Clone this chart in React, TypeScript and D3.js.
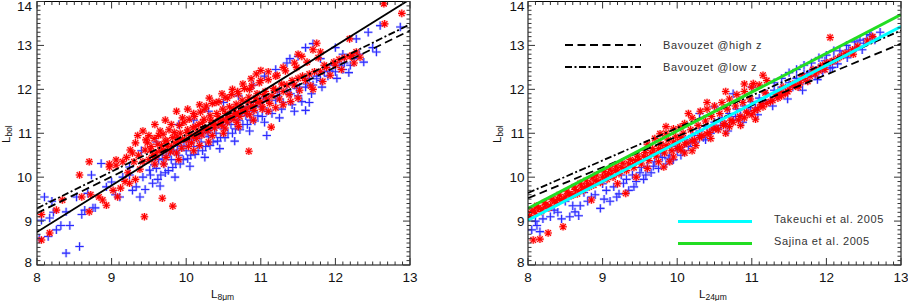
import React from 'react';
import * as d3 from 'd3';

type Pt = [number, number];

const xTicks = [8, 9, 10, 11, 12, 13];
const yTicks = [8, 9, 10, 11, 12, 13, 14];

// L_8um panel, red asterisks
const l8Red: Pt[] = [
  [8.06, 8.57], [8.06, 9.15], [8.17, 8.73], [8.26, 9.25], [8.34, 9.48], [8.57, 10.05], [8.6, 9.55], [8.7, 9.21],
  [8.7, 10.35], [8.72, 9.6], [8.83, 9.55], [8.88, 9.48], [8.93, 9.36], [8.97, 10.23], [8.97, 10.3], [9.02, 9.7],
  [9.06, 10.27], [9.06, 10.39], [9.08, 9.55], [9.12, 9.75], [9.18, 9.9], [9.22, 10.1], [9.24, 9.86], [9.3, 10.35],
  [9.32, 9.95], [9.36, 10.5], [9.38, 10.18], [9.44, 9.1], [9.28, 10.55], [9.2, 10.45], [9.68, 9.52], [9.82, 9.34],
  [9.5, 10.4], [9.52, 10.62], [9.55, 10.5], [9.6, 10.55], [9.62, 10.75], [9.65, 10.6], [9.7, 10.62], [9.72, 10.82],
  [9.75, 10.7], [9.8, 10.7], [9.82, 10.9], [9.85, 10.78], [9.9, 10.8], [9.92, 11.0], [9.95, 10.86], [10.0, 10.85],
  [10.02, 11.08], [10.05, 10.95], [10.1, 10.92], [10.12, 11.15], [10.15, 11.02], [10.2, 11.05], [10.22, 11.25],
  [10.25, 11.1], [10.3, 11.12], [10.33, 11.3], [10.36, 11.2], [10.4, 11.2], [10.43, 11.38], [10.46, 11.28],
  [10.5, 11.3], [10.53, 11.45], [10.56, 11.35], [10.6, 11.38], [10.63, 11.55], [10.66, 11.45], [10.7, 11.45],
  [10.73, 11.62], [10.76, 11.52], [10.8, 11.55], [10.83, 11.72], [10.86, 11.6], [10.9, 11.62], [10.93, 11.8],
  [10.96, 11.7], [11.0, 11.72], [11.04, 11.88], [11.08, 11.78], [11.15, 11.85], [11.2, 11.98], [11.3, 11.95],
  [11.35, 12.1], [11.45, 12.1], [11.5, 12.25], [11.6, 12.2], [11.65, 12.35], [11.8, 12.4], [11.85, 12.55],
  [12.0, 12.55], [12.05, 12.68], [12.2, 12.75], [12.28, 12.85],
  [9.7, 10.3], [9.9, 10.4], [10.1, 10.6], [10.3, 10.8], [10.5, 11.0], [10.7, 11.15], [10.9, 11.3], [11.1, 11.5],
  [11.3, 11.65], [11.5, 11.8], [11.7, 12.0],
  [9.35, 10.95], [9.42, 11.05], [9.5, 10.95], [9.58, 11.2], [9.65, 11.05], [9.72, 11.3], [9.8, 11.2], [9.87, 11.5],
  [9.95, 11.35], [10.02, 11.55], [10.1, 11.45], [10.18, 11.65], [10.25, 11.55], [10.31, 11.8], [10.4, 11.7],
  [10.48, 11.9], [10.55, 11.8], [10.62, 12.0], [10.7, 11.9], [10.76, 12.12], [10.85, 12.0], [10.94, 12.35],
  [11.0, 12.2], [11.1, 12.4], [11.2, 12.3], [11.3, 12.5], [11.45, 12.6], [11.55, 12.75], [11.7, 12.9],
  [11.75, 13.05], [11.8, 12.85],
  [10.84, 10.59], [11.14, 11.14], [12.65, 13.95], [12.89, 13.73], [12.66, 13.49], [12.19, 13.15], [11.5, 12.8],
  [11.0, 12.43], [10.87, 12.24], [12.22, 12.77], [12.33, 12.73],
  [9.45, 10.62], [9.48, 10.78], [9.53, 10.7], [9.57, 10.88], [9.59, 10.45], [9.63, 10.95], [9.67, 10.72],
  [9.69, 10.98], [9.74, 10.83], [9.77, 11.08], [9.79, 10.58], [9.84, 11.02], [9.88, 10.92], [9.91, 11.18],
  [9.94, 10.66], [9.97, 11.25], [10.01, 11.02], [10.04, 11.32], [10.07, 10.78], [10.09, 11.12], [10.11, 11.38],
  [10.14, 10.88], [10.17, 11.2], [10.19, 11.48], [10.21, 10.96], [10.24, 11.32], [10.27, 11.62], [10.29, 11.05],
  [10.32, 11.4], [10.35, 11.68], [10.38, 11.12], [10.41, 11.45], [10.44, 11.72], [10.47, 11.18], [10.49, 11.55],
  [10.52, 11.82], [10.55, 11.25], [10.58, 11.6], [10.61, 11.88], [10.64, 11.32], [10.67, 11.66], [10.69, 11.95],
  [10.72, 11.38], [10.75, 11.75], [10.78, 12.02], [10.81, 11.45], [10.84, 11.82], [10.88, 12.08], [10.91, 11.52],
  [10.95, 11.9], [10.98, 12.15], [11.02, 11.6], [11.06, 11.95], [11.1, 12.22], [11.12, 11.68], [11.17, 12.02],
  [11.22, 12.32], [11.25, 11.78], [11.28, 12.12], [11.33, 12.42], [11.38, 11.88], [11.42, 12.2], [11.48, 12.5],
  [11.52, 11.98], [11.56, 12.3], [11.62, 12.62], [11.67, 12.08], [11.72, 12.4], [11.77, 12.72], [11.83, 12.18],
  [11.88, 12.5], [11.93, 12.32], [11.98, 12.62], [12.08, 12.45], [12.12, 12.72], [12.25, 12.6], [9.42, 10.35],
  [9.58, 10.3], [9.73, 10.45], [9.87, 10.55], [10.03, 10.7], [10.18, 10.72], [10.35, 10.95], [10.52, 11.12],
  [10.68, 11.25], [10.85, 11.42], [11.02, 11.55], [11.2, 11.58], [11.4, 11.72], [9.25, 10.62], [9.32, 10.78],
  [9.15, 10.35], [9.46, 10.85],
];

// L_8um panel, blue crosses
const l8Blue: Pt[] = [
  [8.03, 8.61], [8.06, 9.02], [8.1, 9.55], [8.15, 8.65], [8.17, 9.07], [8.22, 9.2], [8.26, 8.8], [8.32, 8.9],
  [8.39, 9.21], [8.39, 8.27], [8.44, 8.9], [8.53, 9.55], [8.57, 8.42], [8.6, 9.15], [8.64, 9.25], [8.68, 9.63],
  [8.73, 10.05], [8.78, 9.3], [8.86, 10.31], [8.93, 9.78], [9.0, 9.89], [9.05, 9.6], [9.11, 9.55], [9.15, 10.0],
  [9.24, 10.05], [9.24, 10.23], [9.28, 9.7], [9.33, 9.78], [9.38, 9.55], [9.42, 10.0], [9.51, 10.16], [9.55, 9.86],
  [8.2, 9.45], [8.75, 9.3],
  [9.6, 10.2], [9.63, 10.4], [9.66, 10.05], [9.7, 10.3], [9.73, 10.5], [9.76, 10.15], [9.8, 10.4], [9.83, 10.6],
  [9.86, 10.3], [9.9, 10.5], [9.93, 10.7], [9.96, 10.4], [10.0, 10.6], [10.03, 10.8], [10.06, 10.5], [10.1, 10.7],
  [10.13, 10.9], [10.16, 10.6], [10.2, 10.8], [10.23, 11.0], [10.26, 10.7], [10.3, 10.92], [10.33, 11.1],
  [10.36, 10.8], [10.4, 11.0], [10.43, 11.2], [10.46, 10.9], [10.5, 11.1], [10.53, 11.3], [10.56, 11.0],
  [10.6, 11.2], [10.63, 11.4], [10.66, 11.1], [10.7, 11.3], [10.73, 11.5], [10.76, 11.2], [10.8, 11.4],
  [10.83, 11.6], [10.86, 11.3], [10.9, 11.5], [10.93, 11.7], [10.96, 11.4], [11.0, 11.6], [11.04, 11.8],
  [11.08, 11.5], [11.2, 11.75], [11.25, 11.95], [11.3, 11.7], [11.4, 11.9], [11.45, 12.1], [11.5, 11.85],
  [11.6, 12.05], [11.65, 12.25], [11.7, 12.1], [11.8, 12.2], [11.85, 12.4], [11.9, 12.3], [12.0, 12.4],
  [12.05, 12.55], [12.1, 12.45], [12.2, 12.55],
  [9.4, 10.6], [9.6, 10.8], [9.9, 11.2], [10.1, 11.3], [10.3, 11.5], [10.5, 11.7], [10.7, 11.85], [10.9, 12.1],
  [11.05, 12.3], [11.2, 12.45], [11.35, 12.6], [11.5, 12.75], [11.6, 12.95], [11.7, 13.04], [11.8, 12.7],
  [12.0, 12.95], [12.28, 13.15], [12.44, 13.3], [12.6, 13.45], [12.87, 13.42], [12.1, 12.8], [11.39, 12.7],
  [11.97, 12.55], [11.75, 12.24], [11.52, 12.05], [11.08, 10.95], [11.6, 11.52],
  [9.52, 10.05], [9.57, 10.28], [9.62, 9.95], [9.68, 10.42], [9.72, 10.1], [9.78, 10.55], [9.82, 10.22],
  [9.88, 10.62], [9.92, 10.3], [9.97, 10.72], [10.02, 10.42], [10.08, 10.85], [10.12, 10.52], [10.18, 10.95],
  [10.22, 10.6], [10.28, 11.02], [10.32, 10.72], [10.38, 11.12], [10.42, 10.82], [10.48, 11.2], [10.52, 10.9],
  [10.58, 11.3], [10.62, 11.0], [10.68, 11.4], [10.72, 11.08], [10.78, 11.48], [10.82, 11.2], [10.88, 11.58],
  [10.92, 11.28], [10.98, 11.68], [11.02, 11.38], [11.1, 11.75], [11.15, 11.45], [11.22, 11.85], [11.28, 11.55],
  [11.35, 11.95], [11.42, 11.65], [11.48, 12.02], [11.55, 11.72], [11.62, 12.12], [11.68, 11.9], [11.75, 12.3],
  [11.82, 12.05], [11.92, 12.42], [12.02, 12.25], [12.12, 12.6], [12.18, 12.38], [12.25, 12.7], [12.32, 12.8],
  [12.38, 12.62], [12.5, 12.95], [12.55, 12.85], [9.45, 9.72], [9.65, 9.8], [9.85, 10.0], [10.05, 10.25],
  [10.25, 10.45], [10.45, 10.65], [10.65, 10.82], [10.85, 11.05], [11.05, 11.25], [11.25, 11.35], [11.45, 11.5],
  [11.65, 11.7],
];

// L_24um panel, red asterisks
const l24Red: Pt[] = [
  [8.07, 8.57], [8.16, 8.59], [8.27, 8.73], [8.47, 8.87], [8.85, 9.48], [9.31, 9.63],
  [8.02, 9.12], [8.05, 9.22], [8.1, 9.18], [8.14, 9.3], [8.2, 9.28], [8.24, 9.38], [8.3, 9.35], [8.35, 9.45],
  [8.4, 9.5], [8.45, 9.48], [8.5, 9.55], [8.55, 9.62], [8.6, 9.6], [8.63, 9.72], [8.68, 9.68], [8.72, 9.8],
  [8.76, 9.75], [8.8, 9.85], [8.84, 9.82], [8.9, 9.92], [8.95, 9.9], [9.0, 10.0], [9.04, 9.98], [9.08, 10.08],
  [9.12, 10.05], [9.17, 10.15], [9.2, 10.12], [9.25, 10.22], [9.3, 10.2], [9.35, 10.3], [9.4, 10.28],
  [9.44, 10.38], [9.5, 10.4], [9.55, 10.48], [9.6, 10.45], [9.65, 10.55], [9.7, 10.55], [9.75, 10.65],
  [9.8, 10.62], [9.85, 10.72], [9.9, 10.7], [9.95, 10.8], [10.0, 10.78], [10.05, 10.9],
  [9.6, 10.75], [9.7, 10.88], [9.77, 10.99], [9.85, 11.0], [9.95, 11.1], [10.04, 11.14], [10.1, 11.22],
  [10.2, 11.35], [10.31, 11.5], [10.4, 11.55], [10.5, 11.62], [10.6, 11.7], [10.7, 11.78], [10.8, 11.88],
  [10.9, 11.95], [11.0, 12.05], [11.02, 12.13], [11.1, 12.1], [11.2, 12.2],
  [10.0, 10.65], [10.1, 10.75], [10.2, 10.82], [10.3, 10.9], [10.4, 10.98], [10.48, 11.1], [10.55, 11.08],
  [10.62, 11.18], [10.7, 11.15], [10.75, 11.25], [10.82, 11.3], [10.9, 11.35], [10.95, 11.45], [11.0, 11.42],
  [11.08, 11.55], [11.15, 11.6], [11.2, 11.68], [11.28, 11.75], [11.35, 11.8], [11.38, 11.95], [11.45, 11.9],
  [11.5, 12.0], [11.58, 12.08], [11.65, 12.15], [11.7, 12.25], [11.78, 12.3], [11.82, 12.45], [11.9, 12.42],
  [11.95, 12.55], [12.0, 12.6], [12.1, 12.65], [12.2, 12.75], [12.3, 12.82],
  [9.82, 10.23], [9.95, 10.46], [9.9, 10.35], [10.1, 10.55], [10.2, 10.6],
  [12.05, 13.18], [12.36, 12.8],
  [8.08, 9.25], [8.12, 9.35], [8.18, 9.22], [8.22, 9.42], [8.28, 9.3], [8.32, 9.5], [8.38, 9.42], [8.42, 9.6],
  [8.48, 9.52], [8.52, 9.68], [8.58, 9.58], [8.62, 9.78], [8.66, 9.62], [8.7, 9.86], [8.74, 9.7], [8.78, 9.92],
  [8.82, 9.78], [8.86, 9.98], [8.88, 9.82], [8.92, 10.05], [8.97, 9.88], [9.02, 10.12], [9.06, 9.95],
  [9.1, 10.18], [9.14, 10.0], [9.18, 10.25], [9.22, 10.08], [9.27, 10.32], [9.32, 10.15], [9.37, 10.4],
  [9.42, 10.22], [9.47, 10.48], [9.52, 10.3], [9.57, 10.56], [9.62, 10.38], [9.67, 10.65], [9.72, 10.48],
  [9.78, 10.75], [9.83, 10.55], [9.88, 10.85], [9.93, 10.6], [9.98, 10.92], [10.03, 10.68], [10.08, 11.0],
  [10.13, 10.78], [10.18, 11.08], [10.23, 10.85], [10.28, 11.18], [10.33, 10.95], [10.38, 11.28], [10.43, 11.02],
  [10.46, 11.38], [10.52, 11.12], [10.57, 11.45], [10.63, 11.22], [10.67, 11.55], [10.72, 11.3], [10.78, 11.62],
  [10.84, 11.38], [10.88, 11.7], [10.93, 11.48], [10.98, 11.78], [11.04, 11.52], [11.12, 11.65], [11.18, 11.92],
  [11.25, 11.72], [11.32, 11.88], [11.4, 11.85], [11.42, 12.05], [11.48, 11.95], [11.55, 12.12], [11.62, 12.05],
  [11.68, 12.3], [11.75, 12.18], [11.85, 12.35], [11.92, 12.5], [11.98, 12.45], [12.05, 12.62], [12.15, 12.7],
  [12.25, 12.82], [12.35, 12.9], [12.42, 12.98], [12.55, 13.1], [12.62, 13.2], [9.2, 9.85], [9.45, 10.0],
  [9.6, 10.2], [9.75, 10.35], [10.05, 10.62], [10.25, 10.72], [10.45, 10.88], [10.65, 11.0], [10.85, 11.18],
  [11.05, 11.32], [10.4, 11.7], [10.65, 11.95], [10.9, 12.12], [11.15, 12.32], [9.85, 11.15], [10.15, 11.45],
];

// L_24um panel, blue crosses
const l24Blue: Pt[] = [
  [8.05, 8.8], [8.16, 8.76], [8.1, 9.0], [8.2, 9.05], [8.3, 9.1], [8.4, 9.2], [8.56, 9.1], [8.63, 9.21],
  [8.7, 9.35], [8.8, 9.45], [8.85, 9.55], [8.97, 9.29], [9.05, 9.7], [9.1, 9.45], [9.19, 9.55], [9.28, 9.86],
  [9.35, 9.7], [9.4, 10.05], [9.45, 9.9], [9.5, 10.1], [9.55, 9.95], [9.6, 10.25], [9.65, 10.1], [9.7, 10.35],
  [9.75, 10.2], [9.8, 10.45], [9.85, 10.3], [9.9, 10.5], [9.95, 10.4], [10.0, 10.6], [10.05, 10.5],
  [8.25, 9.3], [8.5, 9.45], [8.75, 9.65], [9.0, 9.85], [9.25, 10.05],
  [10.1, 10.85], [10.15, 10.7], [10.2, 10.95], [10.25, 10.8], [10.3, 11.05], [10.35, 10.9], [10.4, 11.15],
  [10.45, 11.0], [10.5, 11.25], [10.55, 11.1], [10.6, 11.35], [10.65, 11.2], [10.7, 11.45], [10.75, 11.3],
  [10.8, 11.55], [10.85, 11.4], [10.9, 11.62], [10.95, 11.5], [11.0, 11.72], [11.05, 11.58], [11.1, 11.8],
  [11.15, 11.68], [11.2, 11.9], [11.25, 11.75], [11.3, 11.98], [11.35, 11.85], [11.4, 12.05], [11.45, 11.95],
  [11.5, 12.15], [11.55, 12.05], [11.6, 12.25], [11.65, 12.12], [11.7, 12.35], [11.75, 12.2], [11.8, 12.42],
  [11.85, 12.3], [11.9, 12.5], [11.95, 12.4], [12.0, 12.58], [12.05, 12.48], [12.1, 12.68], [12.15, 12.58],
  [12.2, 12.78], [12.3, 12.9], [12.4, 12.95], [12.5, 13.05], [12.45, 13.12],
  [12.27, 13.0], [12.54, 13.15], [12.72, 13.3], [12.6, 13.22], [12.0, 12.78], [11.8, 12.6], [11.6, 12.45],
  [11.4, 12.25], [10.75, 11.9], [10.5, 11.6], [10.3, 11.45], [11.0, 12.05], [9.94, 10.39],
  [8.12, 8.9], [8.35, 9.25], [8.45, 9.05], [8.6, 9.35], [8.68, 9.12], [8.9, 9.6], [9.02, 9.5], [9.15, 9.78],
  [9.22, 9.62], [9.32, 9.95], [9.42, 9.78], [9.52, 10.22], [9.58, 10.05], [9.68, 10.25], [9.78, 10.55],
  [9.88, 10.42], [9.98, 10.7], [10.08, 10.6], [10.18, 10.78], [10.28, 10.95], [10.38, 10.85], [10.48, 11.08],
  [10.58, 11.18], [10.68, 11.05], [10.78, 11.38], [10.88, 11.25], [10.98, 11.58], [11.08, 11.42], [11.18, 11.75],
  [11.28, 11.62], [11.38, 11.92], [11.48, 11.78], [11.58, 12.12], [11.68, 11.98], [11.78, 12.38], [11.88, 12.22],
  [11.98, 12.65], [12.08, 12.5], [12.18, 12.88], [12.28, 12.72], [12.38, 13.08], [12.48, 12.9], [12.58, 13.25],
  [12.65, 13.12], [11.3, 12.15], [11.5, 12.38], [11.7, 12.55], [11.9, 12.72], [12.1, 12.88],
];

// fitted relations: [x, Lbol] end points
const l8Fit: Pt[] = [[8, 8.75], [13, 14.05]];
const l8High: Pt[] = [[8, 9.18], [13, 13.34]];
const l8Low: Pt[] = [[8, 9.29], [13, 13.48]];
const l24High: Pt[] = [[8, 9.52], [13, 13.04]];
const l24Low: Pt[] = [[8, 9.64], [13, 13.34]];
const l24Takeuchi: Pt[] = [[8, 9.02], [13, 13.43]];
const l24Sajina: Pt[] = [[8, 9.29], [13, 13.7]];

const FONT = 'Liberation Sans, Arial, Helvetica, sans-serif';
const DASH = '8,4.5';
const DASHDOT = '7,2.5,2,2.5';
const TOP = 1.5;
const BOTTOM = 265;

const plusPath = (pts: Pt[], x, y) =>
  pts.map(([a, b]) => {
    const cx = x(a), cy = y(b);
    return `M${cx - 4.2},${cy}h8.4M${cx},${cy - 4.2}v8.4`;
  }).join('');

const starPath = (pts: Pt[], x, y) =>
  pts.map(([a, b]) => {
    const cx = x(a), cy = y(b);
    const r = 3.8, d = 2.8;
    return `M${cx - r},${cy}h${2 * r}M${cx},${cy - r}v${2 * r}M${cx - d},${cy - d}l${2 * d},${2 * d}M${cx - d},${cy + d}l${2 * d},${-2 * d}`;
  }).join('');

const Panel = ({ id, left, right, blue, red, fits, xSub, xTitleX, yTitleX, labelGap }) => {
  const x = d3.scaleLinear().domain([8, 13]).range([left, right]);
  const y = d3.scaleLinear().domain([8, 14]).range([BOTTOM, TOP]);
  const line = d3.line<Pt>().x(d => x(d[0])).y(d => y(d[1]));
  const xMinor = d3.range(80, 131).map(v => v / 10);
  const yMinor = d3.range(80, 141).map(v => v / 10);
  return (
    <g>
      <defs>
        <clipPath id={`clip-${id}`}>
          <rect x={left} y={TOP} width={right - left} height={BOTTOM - TOP} />
        </clipPath>
      </defs>
      <g clipPath={`url(#clip-${id})`}>
        <path d={plusPath(blue, x, y)} stroke="#8c8cff" strokeWidth={2.6} strokeOpacity={0.45} fill="none" />
        <path d={plusPath(blue, x, y)} stroke="#2a2aff" strokeWidth={1.1} fill="none" />
        <path d={starPath(red, x, y)} stroke="#ff7070" strokeWidth={2.6} strokeOpacity={0.45} fill="none" />
        <path d={starPath(red, x, y)} stroke="#ff0000" strokeWidth={1.1} fill="none" />
        {fits.map((f, i) => (
          <path key={i} d={line(f.pts) || ''} fill="none" stroke={f.color} strokeWidth={f.width}
            strokeDasharray={f.dash} />
        ))}
      </g>
      <rect x={left} y={TOP} width={right - left} height={BOTTOM - TOP} fill="none" stroke="#000" strokeWidth={1} />
      {xMinor.map(v => {
        const major = Math.abs(v - Math.round(v)) < 1e-6;
        const len = major ? 7 : 3.5;
        return (
          <g key={`x${v}`} stroke="#333" strokeWidth={1}>
            <line x1={x(v)} x2={x(v)} y1={BOTTOM} y2={BOTTOM - len} />
            <line x1={x(v)} x2={x(v)} y1={TOP} y2={TOP + len} />
          </g>
        );
      })}
      {yMinor.map(v => {
        const major = Math.abs(v - Math.round(v)) < 1e-6;
        const len = major ? 7 : 3.5;
        return (
          <g key={`y${v}`} stroke="#333" strokeWidth={1}>
            <line x1={left} x2={left + len} y1={y(v)} y2={y(v)} />
            <line x1={right} x2={right - len} y1={y(v)} y2={y(v)} />
          </g>
        );
      })}
      {xTicks.map(v => (
        <text key={`xl${v}`} x={x(v)} y={282} textAnchor="middle" fontSize={13.5} fontFamily={FONT} fill="#111">
          {v}
        </text>
      ))}
      {yTicks.map(v => (
        <text key={`yl${v}`} x={left - labelGap} y={Math.min(Math.max(y(v), 6), 262) + 5} textAnchor="end"
          fontSize={13.5} fontFamily={FONT} fill="#111">
          {v}
        </text>
      ))}
      <text x={xTitleX} y={298} fontSize={11.5} fontFamily={FONT} fill="#111">
        L<tspan fontSize={8.5} dy={2}>{xSub}</tspan>
      </text>
      <text transform={`translate(${yTitleX},143) rotate(-90)`} fontSize={11.5} fontFamily={FONT} fill="#111">
        L<tspan fontSize={8.5} dy={1.5}>bol</tspan>
      </text>
    </g>
  );
};

const legendTop = [
  { label: 'Bavouzet @high z', dash: DASH, y: 45 },
  { label: 'Bavouzet @low z', dash: DASHDOT, y: 67 },
];
const legendBottom = [
  { label: 'Takeuchi et al. 2005', color: '#00ffff', y: 221.5 },
  { label: 'Sajina et al. 2005', color: '#22dd22', y: 243.5 },
];

export default function App() {
  const leftFits = [
    { pts: l8High, color: '#000', width: 1.8, dash: DASH },
    { pts: l8Low, color: '#000', width: 1.8, dash: DASHDOT },
    { pts: l8Fit, color: '#000', width: 1.8, dash: undefined },
  ];
  const rightFits = [
    { pts: l24High, color: '#000', width: 1.8, dash: DASH },
    { pts: l24Low, color: '#000', width: 1.8, dash: DASHDOT },
    { pts: l24Sajina, color: '#22dd22', width: 3, dash: undefined },
    { pts: l24Takeuchi, color: '#00ffff', width: 3, dash: undefined },
  ];
  return (
    <svg width={908} height={301} style={{ position: 'absolute', left: 0, top: 0, background: '#fff' }}>
      <rect width={908} height={301} fill="#fff" />
      <Panel id="l8" left={37} right={410} blue={l8Blue} red={l8Red} fits={leftFits} xSub="8μm"
        xTitleX={211} yTitleX={10} labelGap={5} />
      <Panel id="l24" left={528} right={901} blue={l24Blue} red={l24Red} fits={rightFits} xSub="24μm"
        xTitleX={699} yTitleX={501} labelGap={3.5} />
      {legendTop.map(d => (
        <g key={d.label}>
          <line x1={565} x2={641} y1={d.y} y2={d.y} stroke="#000" strokeWidth={1.8} strokeDasharray={d.dash} />
          <text x={663} y={d.y + 4} fontSize={11} fontFamily={FONT} fill="#333" letterSpacing={0.6}>{d.label}</text>
        </g>
      ))}
      {legendBottom.map(d => (
        <g key={d.label}>
          <line x1={678} x2={752} y1={d.y} y2={d.y} stroke={d.color} strokeWidth={3} />
          <text x={774} y={d.y + 1.5} fontSize={11} fontFamily={FONT} fill="#333" letterSpacing={0.6}>{d.label}</text>
        </g>
      ))}
    </svg>
  );
}
